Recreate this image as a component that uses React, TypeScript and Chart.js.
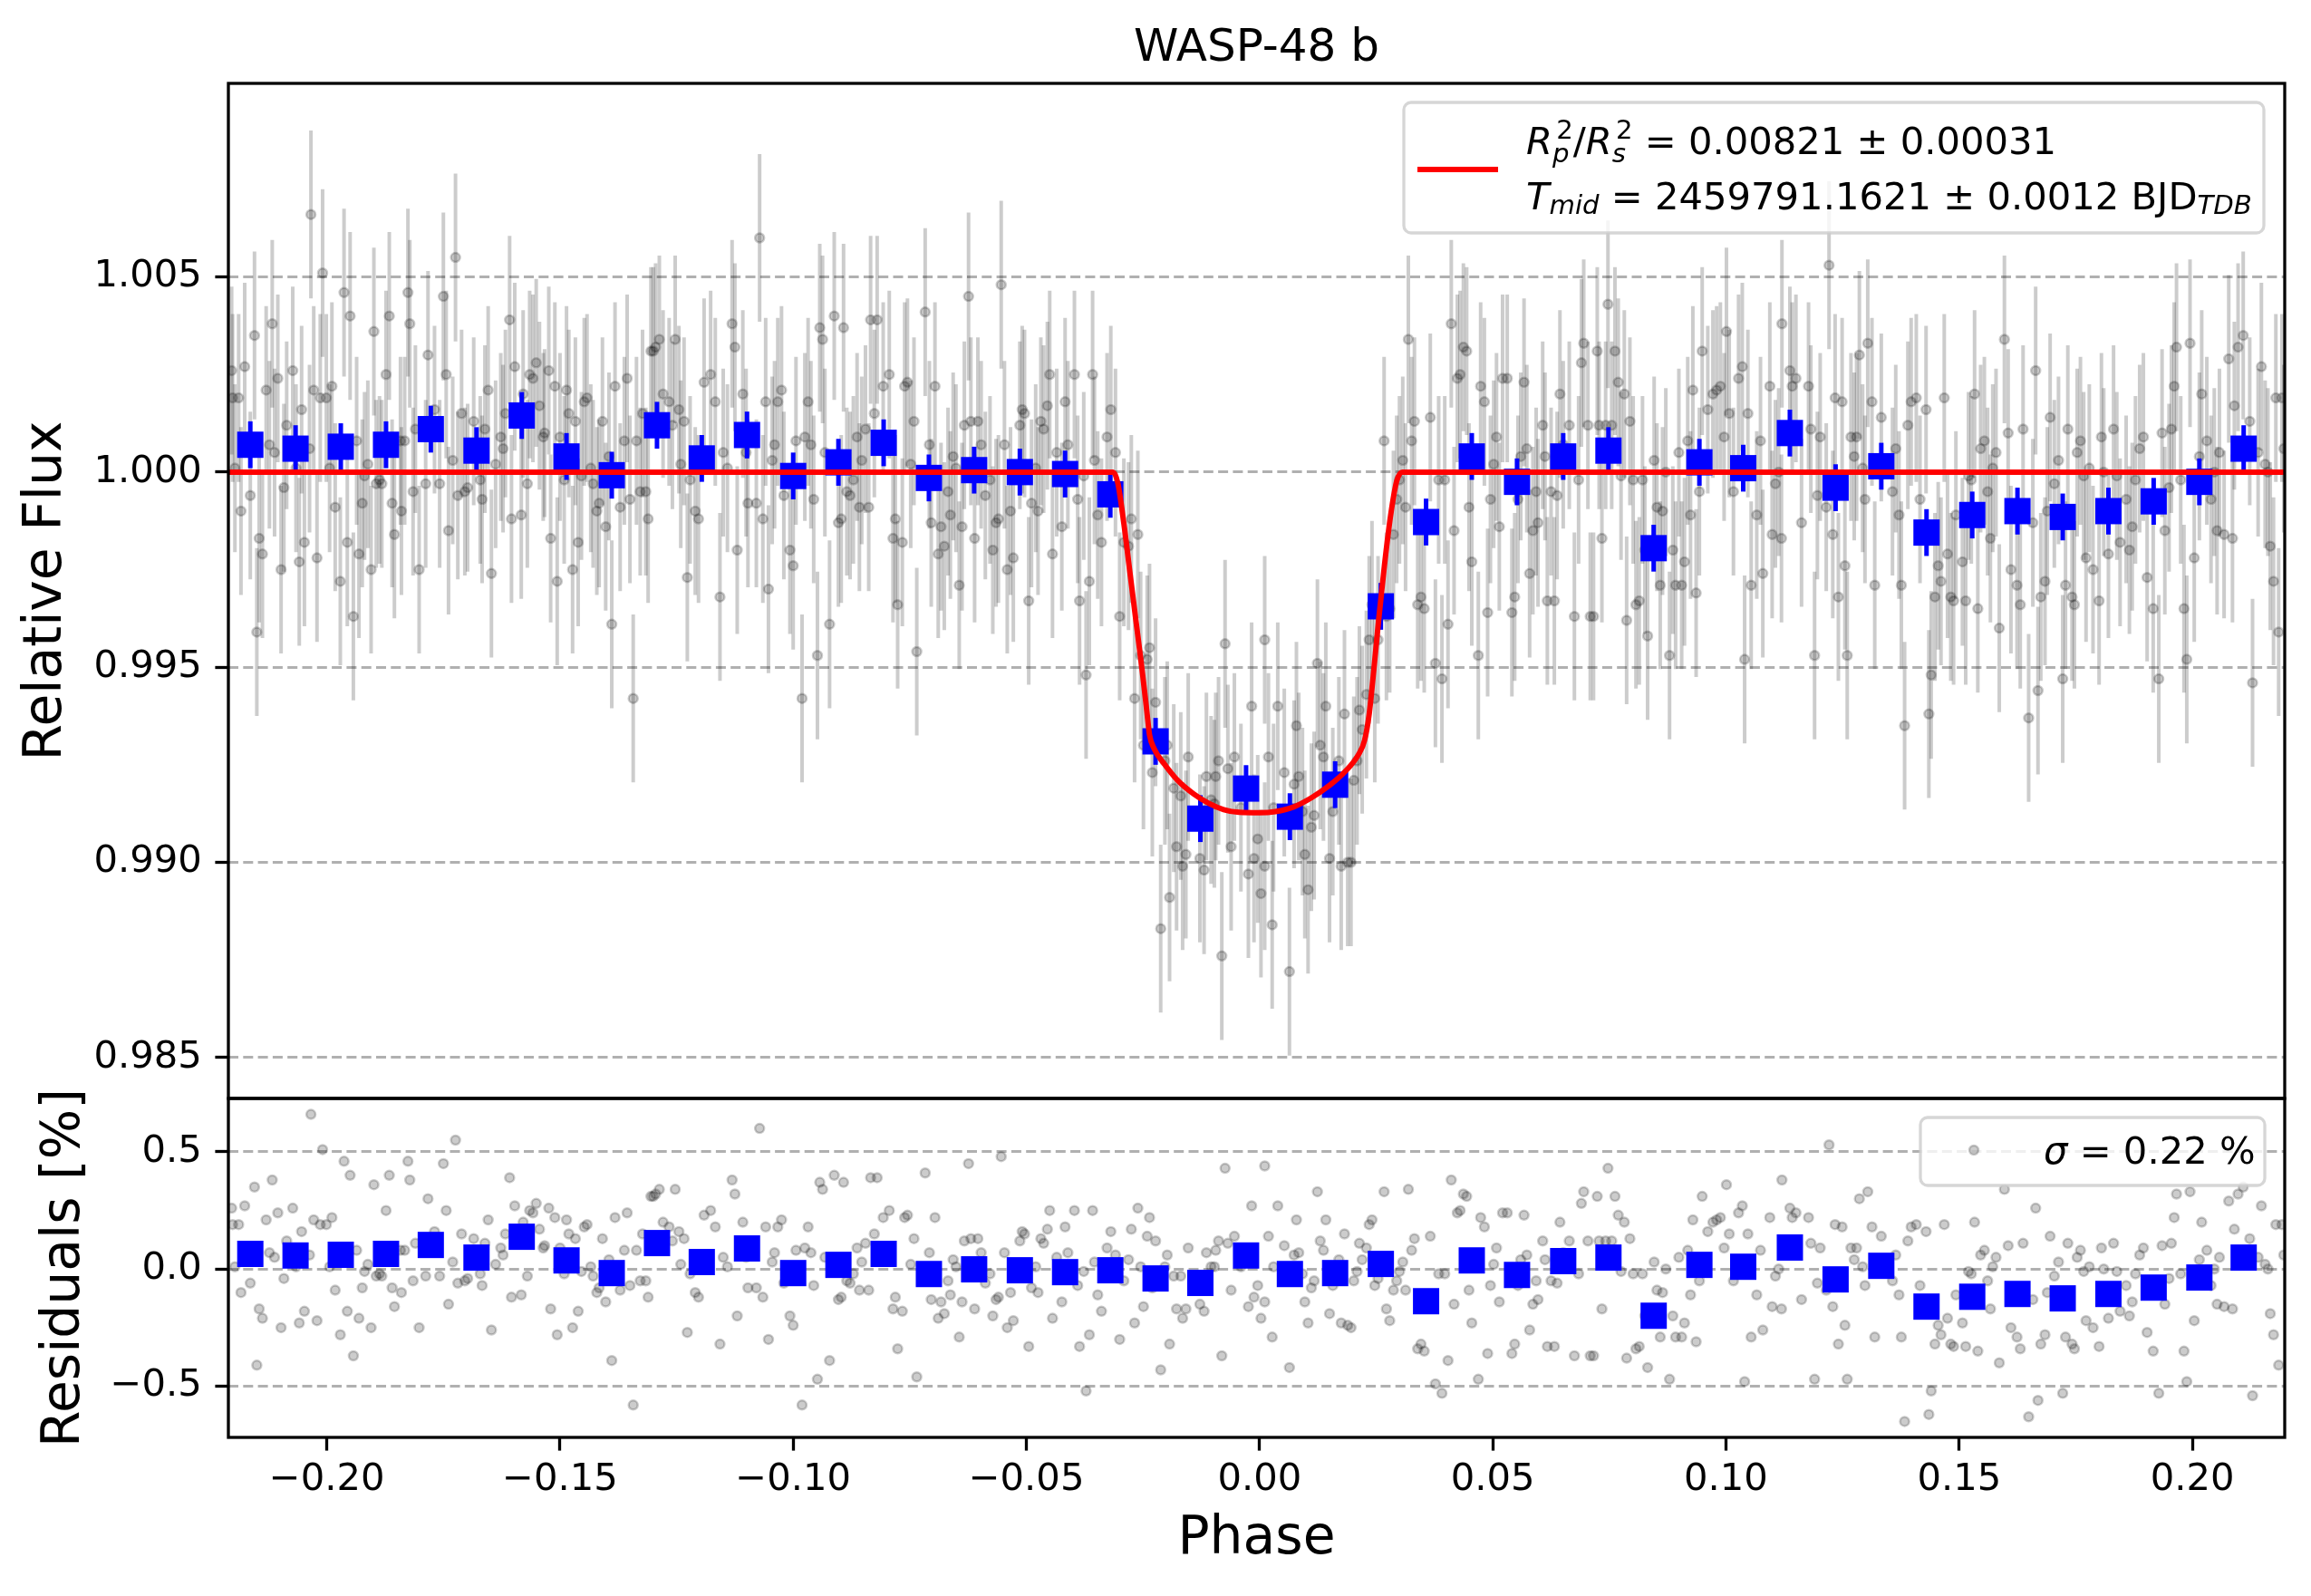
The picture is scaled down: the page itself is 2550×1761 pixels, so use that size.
import React, { useEffect, useRef } from 'react';
import Chart from 'chart.js/auto';

// unbinned phase-folded light curve
const phase = [
    -0.2204, -0.2202, -0.2197, -0.2189, -0.2184, -0.2176, -0.2164, -0.2155, -0.2150, -0.2145,
    -0.2138, -0.2130, -0.2123, -0.2117, -0.2112, -0.2105, -0.2098, -0.2092, -0.2086, -0.2073,
    -0.2066, -0.2059, -0.2054, -0.2048, -0.2037, -0.2034, -0.2028, -0.2021, -0.2014, -0.2009,
    -0.2001, -0.1994, -0.1989, -0.1982, -0.1971, -0.1963, -0.1956, -0.1950, -0.1943, -0.1936,
    -0.1931, -0.1924, -0.1919, -0.1912, -0.1905, -0.1899, -0.1894, -0.1887, -0.1882, -0.1873,
    -0.1866, -0.1860, -0.1855, -0.1842, -0.1840, -0.1833, -0.1826, -0.1822, -0.1815, -0.1810,
    -0.1802, -0.1788, -0.1783, -0.1769, -0.1758, -0.1750, -0.1744, -0.1739, -0.1730, -0.1724,
    -0.1719, -0.1711, -0.1704, -0.1698, -0.1685, -0.1671, -0.1667, -0.1661, -0.1654, -0.1647,
    -0.1638, -0.1627, -0.1622, -0.1617, -0.1608, -0.1604, -0.1597, -0.1583, -0.1579, -0.1570,
    -0.1565, -0.1558, -0.1551, -0.1544, -0.1536, -0.1533, -0.1524, -0.1520, -0.1511, -0.1506,
    -0.1500, -0.1491, -0.1486, -0.1481, -0.1473, -0.1467, -0.1461, -0.1454, -0.1448, -0.1442,
    -0.1434, -0.1429, -0.1421, -0.1416, -0.1409, -0.1402, -0.1395, -0.1389, -0.1382, -0.1371,
    -0.1362, -0.1356, -0.1350, -0.1343, -0.1336, -0.1328, -0.1323, -0.1316, -0.1311, -0.1305,
    -0.1300, -0.1295, -0.1287, -0.1279, -0.1266, -0.1259, -0.1253, -0.1245, -0.1241, -0.1234,
    -0.1227, -0.1221, -0.1210, -0.1203, -0.1191, -0.1177, -0.1167, -0.1157, -0.1150, -0.1141,
    -0.1131, -0.1125, -0.1120, -0.1108, -0.1101, -0.1097,
    -0.1079, -0.1072, -0.1065, -0.1059, -0.1053, -0.1045, -0.1040, -0.1033, -0.1025, -0.1020,
    -0.1007, -0.1000, -0.0994, -0.0981, -0.0975, -0.0968, -0.0962, -0.0956, -0.0948, -0.0943,
    -0.0937, -0.0932, -0.0922, -0.0912, -0.0903, -0.0897, -0.0892, -0.0885, -0.0878, -0.0871,
    -0.0863, -0.0858, -0.0853, -0.0845, -0.0838, -0.0834, -0.0826, -0.0820, -0.0807, -0.0794,
    -0.0786, -0.0781, -0.0776, -0.0766, -0.0761, -0.0755, -0.0748, -0.0741, -0.0735, -0.0717,
    -0.0708, -0.0704, -0.0696, -0.0689, -0.0683, -0.0676, -0.0668, -0.0663, -0.0657, -0.0651,
    -0.0644, -0.0638, -0.0633, -0.0624, -0.0619, -0.0611, -0.0604, -0.0597, -0.0588, -0.0578,
    -0.0572, -0.0565, -0.0560, -0.0554, -0.0547, -0.0541, -0.0534, -0.0528, -0.0514, -0.0509,
    -0.0504, -0.0495, -0.0489, -0.0480, -0.0475, -0.0469, -0.0463, -0.0455, -0.0450, -0.0444,
    -0.0435, -0.0424, -0.0417, -0.0411, -0.0397, -0.0390, -0.0386, -0.0377, -0.0372, -0.0365,
    -0.0358, -0.0354, -0.0347, -0.0339, -0.0327, -0.0319, -0.0309, -0.0300, -0.0291, -0.0281,
    -0.0275, -0.0268, -0.0261, -0.0255, -0.0249, -0.0241, -0.0236, -0.0230, -0.0223, -0.0212,
    -0.0203, -0.0198, -0.0193, -0.0184, -0.0178, -0.0169, -0.0165, -0.0158, -0.0153, -0.0128,
    -0.0119, -0.0114, -0.0104, -0.0097, -0.0094, -0.0088, -0.0081, -0.0074, -0.0068, -0.0061,
    -0.0054, -0.0040, -0.0024, -0.0017, -0.0012, -0.0004, 0.0003, 0.0011, 0.0011,
    0.0019, 0.0027, 0.0030, 0.0039, 0.0053, 0.0064, 0.0074, 0.0079, 0.0084, 0.0092,
    0.0097, 0.0104, 0.0111, 0.0117, 0.0124, 0.0130, 0.0137, 0.0142, 0.0150, 0.0157,
    0.0170, 0.0175, 0.0182, 0.0189, 0.0196, 0.0202, 0.0209, 0.0214, 0.0220, 0.0229,
    0.0235, 0.0241, 0.0247, 0.0254, 0.0267, 0.0272, 0.0279, 0.0287, 0.0294, 0.0300,
    0.0307, 0.0313, 0.0319, 0.0326, 0.0332, 0.0339, 0.0346, 0.0353, 0.0366, 0.0377,
    0.0384, 0.0391, 0.0397, 0.0404, 0.0411, 0.0417, 0.0424, 0.0430, 0.0437, 0.0444,
    0.0449, 0.0455, 0.0469, 0.0474, 0.0482, 0.0489, 0.0495, 0.0502, 0.0508, 0.0514,
    0.0521, 0.0531, 0.0541, 0.0547, 0.0554, 0.0560, 0.0567, 0.0573, 0.0579, 0.0586,
    0.0593, 0.0597, 0.0607, 0.0612, 0.0617, 0.0625, 0.0632, 0.0638, 0.0644, 0.0651,
    0.0664, 0.0675, 0.0684, 0.0690, 0.0695, 0.0704, 0.0709, 0.0716, 0.0724, 0.0728,
    0.0734, 0.0742, 0.0747, 0.0755, 0.0762, 0.0769, 0.0775, 0.0782, 0.0787, 0.0794,
    0.0801, 0.0807, 0.0814, 0.0821, 0.0826, 0.0832, 0.0846, 0.0852, 0.0859, 0.0864,
    0.0871, 0.0879, 0.0886, 0.0892, 0.0899, 0.0905, 0.0911, 0.0918, 0.0924, 0.0929,
    0.0936, 0.0943, 0.0949, 0.0961, 0.0972, 0.0980, 0.0988, 0.0996, 0.1001, 0.1007,
    0.1016, 0.1027, 0.1035, 0.1040, 0.1047, 0.1054, 0.1066, 0.1074, 0.1079, 0.1094,
    0.1099, 0.1106, 0.1113, 0.1119, 0.1120,
    0.1137, 0.1142, 0.1150, 0.1162, 0.1177, 0.1182, 0.1190, 0.1196, 0.1202, 0.1215,
    0.1221, 0.1229, 0.1234, 0.1241, 0.1249, 0.1255, 0.1260, 0.1268, 0.1275, 0.1280,
    0.1286, 0.1293, 0.1298, 0.1304, 0.1313, 0.1319, 0.1333, 0.1357, 0.1364, 0.1371,
    0.1376, 0.1383, 0.1390, 0.1397, 0.1408, 0.1416, 0.1429, 0.1435, 0.1440, 0.1448,
    0.1455, 0.1461, 0.1468, 0.1475, 0.1482, 0.1488, 0.1493, 0.1507, 0.1514, 0.1520,
    0.1526, 0.1533, 0.1540, 0.1546, 0.1554, 0.1561, 0.1567, 0.1572, 0.1579, 0.1586,
    0.1597, 0.1605, 0.1611, 0.1624, 0.1631, 0.1637, 0.1649, 0.1658, 0.1664, 0.1669,
    0.1675, 0.1684, 0.1689, 0.1695, 0.1704, 0.1713, 0.1722, 0.1728, 0.1733, 0.1742,
    0.1747, 0.1753, 0.1760, 0.1767, 0.1772, 0.1779, 0.1787, 0.1800, 0.1805, 0.1810,
    0.1820, 0.1831, 0.1838, 0.1845, 0.1858, 0.1865, 0.1871, 0.1878, 0.1887, 0.1895,
    0.1903, 0.1916, 0.1928, 0.1935, 0.1941, 0.1950, 0.1955, 0.1961, 0.1966, 0.1975,
    0.1982, 0.1988, 0.1995, 0.2004, 0.2015, 0.2020, 0.2031, 0.2040, 0.2047, 0.2053,
    0.2058, 0.2068, 0.2078, 0.2086, 0.2090, 0.2098, 0.2109, 0.2123, 0.2129, 0.2141,
    0.2148, 0.2156, 0.2162, 0.2167, 0.2174, 0.2179, 0.2185, 0.2192, 0.2196,
];

const relFlux = [
    1.0026, 1.0019, 1.0001, 1.0019, 0.9990, 1.0027, 0.9994, 1.0035, 0.9959, 0.9983,
    0.9979, 1.0021, 1.0007, 1.0038, 1.0005, 1.0024, 0.9975, 0.9996, 1.0012, 1.0026,
    1.0001, 0.9977, 1.0016, 0.9982, 1.0006, 1.0066, 1.0021, 0.9978, 1.0019, 1.0051,
    1.0019, 1.0001, 1.0022, 0.9991, 0.9972, 1.0046, 0.9982, 1.0040, 0.9963, 1.0008,
    0.9979, 0.9992, 0.9999, 1.0002, 0.9975, 1.0036, 0.9997, 0.9998, 0.9997, 1.0025,
    1.0040, 0.9992, 0.9984, 1.0008, 0.9990, 1.0008, 1.0046, 1.0038, 0.9995, 1.0011,
    0.9975, 0.9997, 1.0030, 1.0016, 0.9997, 1.0045, 1.0025, 0.9985, 1.0003, 1.0055,
    0.9994, 1.0015, 0.9995, 0.9996, 1.0013, 0.9998, 0.9993, 1.0011, 1.0021, 0.9974,
    1.0002, 1.0009, 1.0006, 1.0015, 1.0039, 0.9988, 1.0027, 0.9989, 1.0020, 0.9997,
    1.0025, 1.0024, 1.0028, 1.0017, 1.0009, 1.0010, 1.0026, 0.9983, 1.0022, 0.9972,
    1.0009, 0.9998, 1.0021, 1.0015, 0.9975, 1.0013, 0.9982, 0.9999, 1.0018, 1.0019,
    1.0001, 0.9997, 0.9990, 0.9992, 1.0013, 0.9986, 1.0004, 0.9961, 1.0022, 0.9991,
    1.0008, 1.0024, 0.9993, 0.9942, 1.0008, 0.9995, 1.0015, 0.9995, 0.9988, 1.0031,
    1.0031, 1.0032, 1.0034, 1.0020, 1.0018, 1.0012, 1.0034, 1.0016, 1.0002, 1.0013,
    0.9973, 0.9998, 0.9990, 0.9988, 1.0023, 1.0025, 1.0018, 0.9968, 1.0005, 1.0001,
    1.0038, 1.0032, 0.9980, 1.0020, 1.0005, 0.9992,
    0.9992, 1.0060, 0.9988, 1.0018, 0.9970, 1.0003, 1.0007, 1.0018, 1.0021, 0.9994,
    0.9980, 0.9976, 1.0008, 0.9942, 1.0009, 1.0018, 1.0007, 0.9993, 0.9953, 1.0037,
    1.0034, 1.0005, 0.9961, 1.0040, 0.9987, 0.9988, 1.0037, 0.9995, 0.9994, 0.9998,
    1.0009, 0.9991, 1.0003, 1.0011, 0.9991, 1.0039, 1.0015, 1.0039, 1.0022, 1.0025,
    0.9983, 0.9988, 0.9966, 0.9982, 1.0022, 1.0023, 1.0002, 1.0013, 0.9954, 1.0041,
    1.0007, 0.9987, 1.0022, 0.9979, 0.9986, 0.9981, 0.9995, 0.9989, 1.0004, 1.0001,
    0.9971, 0.9986, 1.0012, 1.0045, 1.0013, 0.9983, 1.0013, 1.0007, 0.9994, 0.9998,
    0.9980, 0.9987, 0.9988, 1.0048, 1.0007, 0.9975, 0.9990, 0.9978, 1.0012, 1.0016,
    1.0015, 0.9967, 0.9992, 1.0001, 0.9990, 1.0013, 1.0011, 1.0017, 1.0025, 0.9979,
    1.0005, 0.9986, 1.0018, 1.0007, 1.0025, 0.9993, 0.9967, 0.9999, 0.9948, 0.9972,
    1.0025, 1.0003, 0.9989, 0.9982, 1.0009, 1.0016, 1.0005, 0.9963, 0.9982, 0.9981,
    0.9988, 0.9942, 0.9984, 0.9953, 0.9930, 0.9952, 0.9955, 0.9923, 0.9941, 0.9883,
    0.9926, 0.9930, 0.9891, 0.9919, 0.9904, 0.9917, 0.9899, 0.9902, 0.9927, 0.9901,
    0.9898, 0.9922, 0.9916, 0.9915, 0.9922, 0.9926, 0.9876, 0.9956, 0.9924, 0.9904,
    0.9927, 0.9914, 0.9897, 0.9940, 0.9901, 0.9906, 0.9892, 0.9957, 0.9899,
    0.9927, 0.9884, 0.9914, 0.9940, 0.9923, 0.9872, 0.9920, 0.9935, 0.9922, 0.9913,
    0.9902, 0.9893, 0.9909, 0.9912, 0.9951, 0.9930, 0.9927, 0.9940, 0.9901, 0.9913,
    0.9926, 0.9899, 0.9938, 0.9900, 0.9900, 0.9921, 0.9926, 0.9939, 0.9934, 0.9943,
    0.9957, 0.9966, 0.9942, 0.9957, 1.0008, 0.9963, 0.9965, 0.9984, 0.9993, 0.9998,
    1.0003, 0.9991, 1.0034, 1.0008, 1.0013, 0.9966, 0.9968, 0.9965, 1.0014, 0.9951,
    0.9998, 0.9947, 0.9998, 0.9961, 1.0038, 0.9985, 1.0024, 1.0025, 1.0032, 1.0031,
    0.9991, 0.9977, 0.9953, 1.0022, 1.0018, 0.9964, 0.9993, 1.0002, 1.0009, 0.9986,
    1.0024, 1.0024, 0.9964, 0.9968, 0.9993, 1.0004, 1.0023, 1.0006, 0.9974, 0.9985,
    0.9995, 0.9987, 1.0012, 1.0004, 0.9967, 0.9995, 0.9967, 0.9994, 1.0020, 1.0007,
    1.0012, 0.9963, 0.9998, 1.0028, 1.0033, 1.0012, 0.9963, 0.9963, 1.0031, 1.0012,
    0.9983, 1.0012, 1.0043, 1.0012, 1.0031, 1.0023, 0.9999, 1.0020, 0.9962, 1.0013,
    0.9998, 0.9966, 0.9967, 0.9998, 0.9980, 0.9958, 1.0003, 0.9991, 0.9971, 0.9990,
    1.0000, 0.9953, 0.9980, 0.9971, 1.0005, 0.9971, 0.9977, 1.0008, 0.9989, 1.0021,
    0.9969, 0.9995, 1.0031, 1.0016, 1.0020, 1.0021, 1.0022, 1.0009, 1.0036, 1.0015,
    0.9995, 1.0024, 1.0027, 0.9952, 1.0015, 0.9971, 0.9989, 1.0008, 0.9974, 1.0022,
    0.9984, 0.9997, 1.0000, 0.9983, 1.0038,
    1.0026, 1.0022, 1.0024, 0.9987, 1.0022, 1.0011, 0.9953, 0.9994, 1.0009, 0.9991,
    1.0053, 0.9984, 1.0019, 0.9968, 1.0018, 0.9976, 0.9953, 1.0009, 1.0004, 1.0009,
    1.0030, 1.0001, 0.9993, 1.0033, 1.0018, 0.9971, 1.0014, 0.9995, 1.0006, 0.9989,
    0.9971, 0.9935, 1.0012, 1.0018, 1.0019, 0.9993, 1.0016, 0.9938, 0.9948, 0.9968,
    0.9976, 0.9972, 1.0019, 0.9979, 0.9968, 0.9967, 0.9989, 0.9977, 0.9967, 0.9999,
    0.9998, 1.0020, 0.9965, 1.0006, 1.0008, 0.9995, 0.9983, 1.0001, 1.0005, 0.9960,
    1.0034, 1.0010, 0.9975, 0.9971, 0.9966, 1.0011, 0.9937, 0.9987, 1.0026, 0.9944,
    0.9968, 0.9972, 0.9990, 1.0014, 0.9997, 1.0003, 0.9947, 0.9971, 1.0011, 0.9968,
    0.9966, 1.0005, 1.0008, 0.9999, 0.9978, 1.0001, 0.9975, 0.9967, 1.0009, 1.0000,
    0.9979, 1.0011, 0.9999, 0.9982, 0.9993, 0.9980, 0.9986, 0.9998, 1.0006, 1.0009,
    0.9973, 0.9965, 0.9947, 1.0010, 0.9985, 0.9996, 1.0011, 1.0022, 1.0032, 0.9998,
    0.9965, 0.9952, 1.0033, 0.9978, 1.0004, 1.0020, 1.0008, 0.9993, 1.0000, 0.9985,
    1.0005, 0.9984, 1.0029, 0.9983, 1.0017, 1.0032, 1.0035, 1.0013, 0.9946, 1.0005,
    1.0027, 1.0002, 1.0000, 0.9981, 0.9972, 1.0019, 0.9959, 1.0019, 1.0006,
];

// residuals in percent
const residual = [
    0.26, 0.19, 0.01, 0.19, -0.10, 0.27, -0.06, 0.35, -0.41, -0.17,
    -0.21, 0.21, 0.07, 0.38, 0.05, 0.24, -0.25, -0.04, 0.12, 0.26,
    0.01, -0.23, 0.16, -0.18, 0.06, 0.66, 0.21, -0.22, 0.19, 0.51,
    0.19, 0.01, 0.22, -0.09, -0.28, 0.46, -0.18, 0.40, -0.37, 0.08,
    -0.21, -0.08, -0.01, 0.02, -0.25, 0.36, -0.03, -0.02, -0.03, 0.25,
    0.40, -0.08, -0.16, 0.08, -0.10, 0.08, 0.46, 0.38, -0.05, 0.11,
    -0.25, -0.03, 0.30, 0.16, -0.03, 0.45, 0.25, -0.15, 0.03, 0.55,
    -0.06, 0.15, -0.05, -0.04, 0.13, -0.02, -0.07, 0.11, 0.21, -0.26,
    0.02, 0.09, 0.06, 0.15, 0.39, -0.12, 0.27, -0.11, 0.20, -0.03,
    0.25, 0.24, 0.28, 0.17, 0.09, 0.10, 0.26, -0.17, 0.22, -0.28,
    0.09, -0.02, 0.21, 0.15, -0.25, 0.13, -0.18, -0.01, 0.18, 0.19,
    0.01, -0.03, -0.10, -0.08, 0.13, -0.14, 0.04, -0.39, 0.22, -0.09,
    0.08, 0.24, -0.07, -0.58, 0.08, -0.05, 0.15, -0.05, -0.12, 0.31,
    0.31, 0.32, 0.34, 0.20, 0.18, 0.12, 0.34, 0.16, 0.02, 0.13,
    -0.27, -0.02, -0.10, -0.12, 0.23, 0.25, 0.18, -0.32, 0.05, 0.01,
    0.38, 0.32, -0.20, 0.20, 0.05, -0.08,
    -0.08, 0.60, -0.12, 0.18, -0.30, 0.03, 0.07, 0.18, 0.21, -0.06,
    -0.20, -0.24, 0.08, -0.58, 0.09, 0.18, 0.07, -0.07, -0.47, 0.37,
    0.34, 0.05, -0.39, 0.40, -0.13, -0.12, 0.37, -0.05, -0.06, -0.02,
    0.09, -0.09, 0.03, 0.11, -0.09, 0.39, 0.15, 0.39, 0.22, 0.25,
    -0.17, -0.12, -0.34, -0.18, 0.22, 0.23, 0.02, 0.13, -0.46, 0.41,
    0.07, -0.13, 0.22, -0.21, -0.14, -0.19, -0.05, -0.11, 0.04, 0.01,
    -0.29, -0.14, 0.12, 0.45, 0.13, -0.17, 0.13, 0.07, -0.06, -0.02,
    -0.20, -0.13, -0.12, 0.48, 0.07, -0.25, -0.10, -0.22, 0.12, 0.16,
    0.15, -0.33, -0.08, 0.01, -0.10, 0.13, 0.11, 0.17, 0.25, -0.21,
    0.05, -0.14, 0.18, 0.07, 0.25, -0.07, -0.33, -0.01, -0.52, -0.28,
    0.25, 0.03, -0.11, -0.18, 0.09, 0.16, 0.06, -0.30, -0.05, 0.04,
    0.17, -0.23, 0.26, 0.01, -0.16, 0.14, 0.22, -0.08, 0.12, -0.43,
    0.01, 0.06, -0.32, -0.03, -0.17, -0.03, -0.21, -0.17, 0.09, -0.15,
    -0.18, 0.07, 0.01, 0.01, 0.08, 0.12, -0.37, 0.43, 0.11, -0.09,
    0.14, 0.01, -0.16, 0.27, -0.12, -0.07, -0.21, 0.44, -0.14,
    0.14, -0.29, 0.01, 0.27, 0.10, -0.42, 0.06, 0.21, 0.07, -0.02,
    -0.14, -0.23, -0.08, -0.05, 0.33, 0.12, 0.08, 0.21, -0.19, -0.07,
    0.04, -0.23, 0.15, -0.24, -0.25, -0.05, -0.01, 0.11, 0.04, 0.09,
    0.19, 0.21, -0.07, -0.04, 0.33, -0.17, -0.22, -0.09, -0.05, -0.01,
    0.03, -0.09, 0.34, 0.08, 0.13, -0.34, -0.32, -0.35, 0.14, -0.49,
    -0.02, -0.53, -0.02, -0.39, 0.38, -0.15, 0.24, 0.25, 0.32, 0.31,
    -0.09, -0.23, -0.47, 0.22, 0.18, -0.36, -0.07, 0.02, 0.09, -0.14,
    0.24, 0.24, -0.36, -0.32, -0.07, 0.04, 0.23, 0.06, -0.26, -0.15,
    -0.05, -0.13, 0.12, 0.04, -0.33, -0.05, -0.33, -0.06, 0.20, 0.07,
    0.12, -0.37, -0.02, 0.28, 0.33, 0.12, -0.37, -0.37, 0.31, 0.12,
    -0.17, 0.12, 0.43, 0.12, 0.31, 0.23, -0.01, 0.20, -0.38, 0.13,
    -0.02, -0.34, -0.33, -0.02, -0.20, -0.42, 0.03, -0.09, -0.29, -0.10,
    0.00, -0.47, -0.20, -0.29, 0.05, -0.29, -0.23, 0.08, -0.11, 0.21,
    -0.31, -0.05, 0.31, 0.16, 0.20, 0.21, 0.22, 0.09, 0.36, 0.15,
    -0.05, 0.24, 0.27, -0.48, 0.15, -0.29, -0.11, 0.08, -0.26, 0.22,
    -0.16, -0.03, 0.00, -0.17, 0.38,
    0.26, 0.22, 0.24, -0.13, 0.22, 0.11, -0.47, -0.06, 0.09, -0.09,
    0.53, -0.16, 0.19, -0.32, 0.18, -0.24, -0.47, 0.09, 0.04, 0.09,
    0.30, 0.01, -0.07, 0.33, 0.18, -0.29, 0.14, -0.05, 0.06, -0.11,
    -0.29, -0.65, 0.12, 0.18, 0.19, -0.07, 0.16, -0.62, -0.52, -0.32,
    -0.24, -0.28, 0.19, -0.21, -0.32, -0.33, -0.11, -0.23, -0.33, -0.01,
    -0.02, 0.20, -0.35, 0.06, 0.08, -0.05, -0.17, 0.01, 0.05, -0.40,
    0.34, 0.10, -0.25, -0.29, -0.34, 0.11, -0.63, -0.13, 0.26, -0.56,
    -0.32, -0.28, -0.10, 0.14, -0.03, 0.03, -0.53, -0.29, 0.11, -0.32,
    -0.34, 0.05, 0.08, -0.01, -0.22, 0.01, -0.25, -0.33, 0.09, 0.00,
    -0.21, 0.11, -0.01, -0.18, -0.07, -0.20, -0.14, -0.02, 0.06, 0.09,
    -0.27, -0.35, -0.53, 0.10, -0.15, -0.04, 0.11, 0.22, 0.32, -0.02,
    -0.35, -0.48, 0.33, -0.22, 0.04, 0.20, 0.08, -0.07, 0.00, -0.15,
    0.05, -0.16, 0.29, -0.17, 0.17, 0.32, 0.35, 0.13, -0.54, 0.05,
    0.27, 0.02, 0.00, -0.19, -0.28, 0.19, -0.41, 0.19, 0.06,
];

const fluxErr = 0.00215;

// binned points
const binPhase = [
    -0.2164, -0.2067, -0.1970, -0.1873, -0.1777, -0.1679, -0.1582, -0.1486, -0.1389, -0.1292,
    -0.1196, -0.1099, -0.1000, -0.0903, -0.0806, -0.0709, -0.0612, -0.0514, -0.0417, -0.0320,
    -0.0223, -0.0127, -0.0029, 0.0065, 0.0162, 0.0260, 0.0357, 0.0455, 0.0552, 0.0651,
    0.0748, 0.0845, 0.0943, 0.1037, 0.1137, 0.1235, 0.1333, 0.1430, 0.1528, 0.1625,
    0.1722, 0.1820, 0.1917, 0.2015, 0.2110,
];
const binFlux = [
    1.0007, 1.0006, 1.00065, 1.0007, 1.0011, 1.00055, 1.00145, 1.0004, 0.99992, 1.0012,
    1.00035, 1.00095, 0.9999, 1.00025, 1.00075, 0.99985, 1.00005, 1.0, 0.99995, 0.99943,
    0.9931, 0.99112, 0.99189, 0.99117, 0.99199, 0.99656, 0.99872, 1.0004, 0.99975, 1.0004,
    1.00055, 0.99805, 1.00025, 1.0001, 1.001, 0.9996, 1.00015, 0.99845, 0.9989, 0.999,
    0.99885, 0.999, 0.99925, 0.99975, 1.0006,
];
const binResidual = [
    0.065, 0.058, 0.061, 0.065, 0.103, 0.049, 0.138, 0.037, -0.017, 0.111,
    0.030, 0.088, -0.017, 0.018, 0.065, -0.021, -0.001, -0.005, -0.013, -0.005,
    -0.040, -0.059, 0.058, -0.021, -0.017, 0.022, -0.137, 0.037, -0.025, 0.034,
    0.049, -0.199, 0.018, 0.010, 0.092, -0.044, 0.014, -0.160, -0.118, -0.106,
    -0.125, -0.106, -0.079, -0.036, 0.049,
];
const binFluxErr = 0.0006;

// fitted transit model
const modelPhase = [
    -0.2215, -0.0314, -0.0304, -0.0291, -0.0278, -0.0265, -0.0252, -0.0242, -0.0236, -0.0226,
    -0.0206, -0.0174, -0.0141, -0.0109, -0.0077, -0.0044, 0.0, 0.0034, 0.0073, 0.0112,
    0.0151, 0.0183, 0.0212, 0.0225, 0.0235, 0.0245, 0.0255, 0.0268, 0.0281, 0.0294,
    0.0306, 0.2205,
];
const modelFlux = [
    1.0, 1.0, 0.99972, 0.99868, 0.99743, 0.99618, 0.99494, 0.9939, 0.99327, 0.99291,
    0.99255, 0.99208, 0.99175, 0.99151, 0.99135, 0.99128, 0.99127, 0.9913, 0.99142, 0.99166,
    0.99198, 0.99232, 0.99276, 0.99312, 0.9938, 0.99494, 0.99618, 0.99764, 0.99889, 0.99977,
    1.0, 1.0,
];

const fluxTicks = [0.985, 0.99, 0.995, 1.0, 1.005];
const residTicks = [-0.5, 0.0, 0.5];
const phaseTicks = [-0.2, -0.15, -0.1, -0.05, 0.0, 0.05, 0.1, 0.15, 0.2];

const titleText = 'WASP-48 b';

// page layout (px)
const W = 2550;
const H = 1761;
const AX_LEFT = 252;
const AX_RIGHT = 2521;
const AX_TOP = 92;
const AX_MID = 1212;
const AX_BOTTOM = 1586;
const FONT = '"DejaVu Sans", sans-serif';
const TICK_SIZE = 41.7;
const LABEL_SIZE = 58.3;

const fmt = (v: number, d: number) => (v < 0 ? '\u2212' : '') + Math.abs(v).toFixed(d);

interface Seg {
    text: string;
    italic?: boolean;
    shift?: number;
    scale?: number;
    dx?: number;
    keepX?: boolean;
}

const drawRich = (ctx: CanvasRenderingContext2D, segs: Seg[], x: number, y: number, size: number) => {
    let cx = x;
    let pending = 0;
    ctx.textBaseline = 'alphabetic';
    ctx.textAlign = 'left';
    ctx.fillStyle = '#000';
    segs.forEach((s) => {
        const fs = size * (s.scale ?? 1);
        const off = (s.dx ?? 0) * size;
        ctx.font = `${s.italic ? 'italic ' : ''}${fs}px ${FONT}`;
        const w = ctx.measureText(s.text).width + off;
        ctx.fillText(s.text, cx + off, y + (s.shift ?? 0) * size);
        if (s.keepX) {
            pending = w;
        } else {
            cx += Math.max(w, pending);
            pending = 0;
        }
    });
};

const legendBox = (ctx: CanvasRenderingContext2D, x: number, y: number, w: number, h: number) => {
    ctx.beginPath();
    ctx.roundRect(x, y, w, h, 8);
    ctx.fillStyle = 'rgba(255,255,255,0.8)';
    ctx.fill();
    ctx.lineWidth = 3.3;
    ctx.strokeStyle = 'rgba(204,204,204,0.8)';
    ctx.stroke();
};

const errorBarPlugin = (id: string, dsIndex: number, xs: number[], ys: number[], err: number, color: string, width: number) => ({
    id,
    beforeDatasetDraw(chart: any, args: any) {
        if (args.index !== dsIndex) return;
        const { ctx, chartArea, scales } = chart;
        ctx.save();
        ctx.beginPath();
        ctx.rect(chartArea.left, chartArea.top, chartArea.right - chartArea.left, chartArea.bottom - chartArea.top);
        ctx.clip();
        ctx.strokeStyle = color;
        ctx.lineWidth = width;
        xs.forEach((x, i) => {
            const px = scales.x.getPixelForValue(x);
            ctx.beginPath();
            ctx.moveTo(px, scales.y.getPixelForValue(ys[i] + err));
            ctx.lineTo(px, scales.y.getPixelForValue(ys[i] - err));
            ctx.stroke();
        });
        ctx.restore();
    },
});

const framePlugin = {
    id: 'frame',
    afterDatasetsDraw(chart: any) {
        const { ctx, chartArea } = chart;
        ctx.save();
        ctx.strokeStyle = '#000';
        ctx.lineWidth = 3.3;
        ctx.strokeRect(chartArea.left, chartArea.top, chartArea.right - chartArea.left, chartArea.bottom - chartArea.top);
        ctx.restore();
    },
};

const topDecorPlugin = {
    id: 'topDecor',
    afterDraw(chart: any) {
        const { ctx } = chart;
        ctx.save();
        ctx.font = `50px ${FONT}`;
        ctx.fillStyle = '#000';
        ctx.textAlign = 'center';
        ctx.textBaseline = 'alphabetic';
        ctx.fillText(titleText, (AX_LEFT + AX_RIGHT) / 2, 67);

        legendBox(ctx, 1549, 113, 949, 144);
        ctx.strokeStyle = '#ff0000';
        ctx.lineWidth = 6;
        ctx.beginPath();
        ctx.moveTo(1564, 187);
        ctx.lineTo(1653, 187);
        ctx.stroke();
        drawRich(ctx, [
            { text: 'R', italic: true },
            { text: 'p', italic: true, scale: 0.7, shift: 0.22, keepX: true },
            { text: '2', scale: 0.7, shift: -0.41, dx: 0.1 },
            { text: '/' },
            { text: 'R', italic: true },
            { text: 's', italic: true, scale: 0.7, shift: 0.22, keepX: true },
            { text: '2', scale: 0.7, shift: -0.41, dx: 0.1 },
            { text: ' = 0.00821 \u00b1 0.00031' },
        ], 1684, 170, TICK_SIZE);
        drawRich(ctx, [
            { text: 'T', italic: true },
            { text: 'mid', italic: true, scale: 0.7, shift: 0.13 },
            { text: ' = 2459791.1621 \u00b1 0.0012 BJD' },
            { text: 'TDB', italic: true, scale: 0.7, shift: 0.13 },
        ], 1684, 231, TICK_SIZE);
        ctx.restore();
    },
};

const bottomDecorPlugin = {
    id: 'bottomDecor',
    afterDraw(chart: any) {
        const { ctx } = chart;
        ctx.save();
        legendBox(ctx, 2119, 1233, 380, 75);
        ctx.beginPath();
        ctx.arc(2178, 1269, 5, 0, Math.PI * 2);
        ctx.fillStyle = 'rgba(0,0,0,0.2)';
        ctx.fill();
        ctx.lineWidth = 2.5;
        ctx.strokeStyle = 'rgba(0,0,0,0.2)';
        ctx.stroke();
        drawRich(ctx, [
            { text: '\u03c3', italic: true },
            { text: ' = 0.22 %' },
        ], 2255, 1284, TICK_SIZE);
        ctx.restore();
    },
};

const yGrid = {
    color: '#b0b0b0',
    lineWidth: 3,
    drawTicks: true,
    tickLength: 14.6,
    tickWidth: 3.3,
    tickColor: '#000',
};

const App: React.FC = () => {
    const topRef = useRef<HTMLCanvasElement | null>(null);
    const bottomRef = useRef<HTMLCanvasElement | null>(null);

    useEffect(() => {
        if (!topRef.current || !bottomRef.current) return;
        Chart.defaults.font.family = FONT;

        const topChart = new Chart(topRef.current, {
            type: 'scatter',
            data: {
                datasets: [
                    {
                        label: 'model',
                        data: modelPhase.map((x, i) => ({ x, y: modelFlux[i] })),
                        showLine: true,
                        borderColor: '#ff0000',
                        borderWidth: 6,
                        pointRadius: 0,
                        cubicInterpolationMode: 'monotone',
                        fill: false,
                    },
                    {
                        label: 'binned',
                        data: binPhase.map((x, i) => ({ x, y: binFlux[i] })),
                        pointStyle: 'rect',
                        pointRadius: 20.5,
                        pointBackgroundColor: '#0000ff',
                        pointBorderWidth: 0,
                    },
                    {
                        label: 'data',
                        data: phase.map((x, i) => ({ x, y: relFlux[i] })),
                        pointRadius: 5,
                        pointBorderWidth: 2.5,
                        pointBackgroundColor: 'rgba(0,0,0,0.2)',
                        pointBorderColor: 'rgba(0,0,0,0.2)',
                    },
                ],
            } as any,
            options: {
                responsive: false,
                animation: false,
                events: [],
                layout: { padding: { left: 0, top: AX_TOP, right: W - AX_RIGHT, bottom: H - AX_MID } },
                plugins: { legend: { display: false }, tooltip: { enabled: false } },
                scales: {
                    x: { type: 'linear', display: false, min: -0.2211, max: 0.2198 },
                    y: {
                        type: 'linear',
                        min: 0.98395,
                        max: 1.00996,
                        afterBuildTicks: (axis: any) => {
                            axis.ticks = fluxTicks.map((v) => ({ value: v }));
                        },
                        afterFit: (axis: any) => {
                            axis.width = AX_LEFT;
                        },
                        grid: yGrid,
                        border: { display: false, dash: [11, 5.3] },
                        ticks: {
                            color: '#000',
                            padding: 14.6,
                            font: { size: TICK_SIZE, family: FONT },
                            callback: (v: any) => Number(v).toFixed(3),
                        },
                        title: {
                            display: true,
                            text: 'Relative Flux',
                            color: '#000',
                            font: { size: LABEL_SIZE, family: FONT },
                            padding: { top: 17, bottom: 0 },
                        },
                    },
                },
            } as any,
            plugins: [
                errorBarPlugin('grayErr', 2, phase, relFlux, fluxErr, 'rgba(0,0,0,0.2)', 4),
                errorBarPlugin('binErr', 1, binPhase, binFlux, binFluxErr, '#0000ff', 5),
                framePlugin,
                topDecorPlugin,
            ],
        });

        const bottomChart = new Chart(bottomRef.current, {
            type: 'scatter',
            data: {
                datasets: [
                    {
                        label: 'binned',
                        data: binPhase.map((x, i) => ({ x, y: binResidual[i] })),
                        pointStyle: 'rect',
                        pointRadius: 20.5,
                        pointBackgroundColor: '#0000ff',
                        pointBorderWidth: 0,
                    },
                    {
                        label: 'residuals',
                        data: phase.map((x, i) => ({ x, y: residual[i] })),
                        pointRadius: 5,
                        pointBorderWidth: 2.5,
                        pointBackgroundColor: 'rgba(0,0,0,0.2)',
                        pointBorderColor: 'rgba(0,0,0,0.2)',
                    },
                ],
            } as any,
            options: {
                responsive: false,
                animation: false,
                events: [],
                layout: { padding: { left: 0, top: AX_MID, right: W - AX_RIGHT, bottom: 0 } },
                plugins: { legend: { display: false }, tooltip: { enabled: false } },
                scales: {
                    x: {
                        type: 'linear',
                        min: -0.2211,
                        max: 0.2198,
                        afterBuildTicks: (axis: any) => {
                            axis.ticks = phaseTicks.map((v) => ({ value: v }));
                        },
                        afterFit: (axis: any) => {
                            axis.height = H - AX_BOTTOM;
                        },
                        grid: {
                            drawOnChartArea: false,
                            drawTicks: true,
                            tickLength: 14.6,
                            tickWidth: 3.3,
                            tickColor: '#000',
                        },
                        border: { display: false },
                        ticks: {
                            color: '#000',
                            padding: 8,
                            autoSkip: false,
                            maxRotation: 0,
                            font: { size: TICK_SIZE, family: FONT },
                            callback: (v: any) => fmt(Number(v), 2),
                        },
                        title: {
                            display: true,
                            text: 'Phase',
                            color: '#000',
                            font: { size: LABEL_SIZE, family: FONT },
                            padding: { top: 0, bottom: 27 },
                        },
                    },
                    y: {
                        type: 'linear',
                        min: -0.718,
                        max: 0.728,
                        afterBuildTicks: (axis: any) => {
                            axis.ticks = residTicks.map((v) => ({ value: v }));
                        },
                        afterFit: (axis: any) => {
                            axis.width = AX_LEFT;
                        },
                        grid: yGrid,
                        border: { display: false, dash: [11, 5.3] },
                        ticks: {
                            color: '#000',
                            padding: 14.6,
                            font: { size: TICK_SIZE, family: FONT },
                            callback: (v: any) => fmt(Number(v), 1),
                        },
                        title: {
                            display: true,
                            text: 'Residuals [%]',
                            color: '#000',
                            font: { size: LABEL_SIZE, family: FONT },
                            padding: { top: 37, bottom: 0 },
                        },
                    },
                },
            } as any,
            plugins: [framePlugin, bottomDecorPlugin],
        });

        return () => {
            topChart.destroy();
            bottomChart.destroy();
        };
    }, []);

    const canvasStyle: React.CSSProperties = { position: 'absolute', left: 0, top: 0, width: W, height: H };

    return (
        <div style={{ position: 'fixed', left: 0, top: 0, width: W, height: H, background: '#fff' }}>
            <canvas ref={bottomRef} width={W} height={H} style={canvasStyle}></canvas>
            <canvas ref={topRef} width={W} height={H} style={canvasStyle}></canvas>
        </div>
    );
};

export default App;
